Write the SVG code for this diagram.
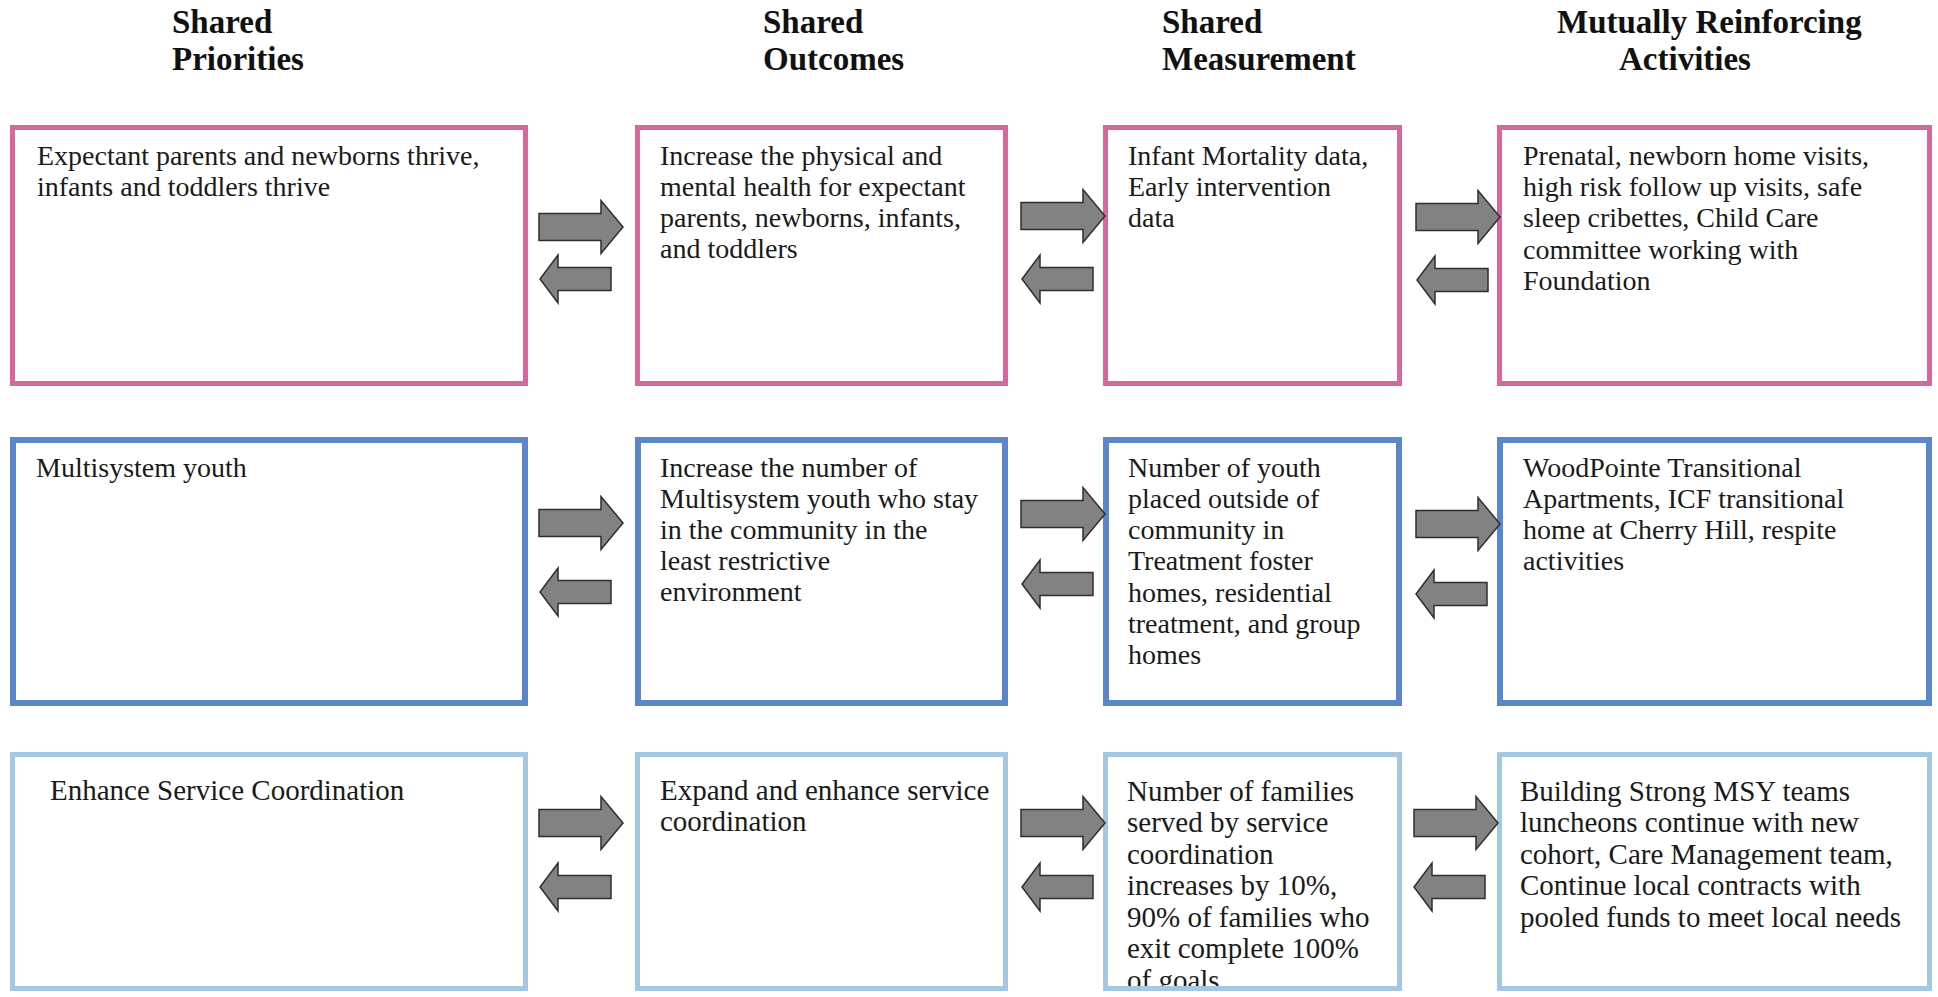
<svg xmlns="http://www.w3.org/2000/svg" width="1938" height="997" viewBox="0 0 1938 997">
<style>
.hd{font-family:"Liberation Serif","Times New Roman",serif;font-weight:bold;font-size:33px;fill:#111}
.tx{font-family:"Liberation Serif","Times New Roman",serif;font-size:28px;fill:#1a1a1a}
.tx3{font-family:"Liberation Serif","Times New Roman",serif;font-size:29px;fill:#1a1a1a}
.pink{fill:#fff;stroke:#d7689d;stroke-width:5}
.blue{fill:#fff;stroke:#5a87c9;stroke-width:6}
.lblue{fill:#fff;stroke:#a5c8e2;stroke-width:5}
.arr{fill:#828282;stroke:#2e2e2e;stroke-width:1.5;stroke-linejoin:miter}
</style>
<defs>
<path id="ra" d="M0,-13.5 L62,-13.5 L62,-26.5 L84,0 L62,26.5 L62,13.5 L0,13.5 Z"/>
<path id="la" d="M71,-11.5 L18,-11.5 L18,-24 L0,0 L18,24 L18,11.5 L71,11.5 Z"/>
<clipPath id="clipR3C3"><rect x="1106" y="755" width="293" height="231"/></clipPath>
</defs>
<rect width="1938" height="997" fill="#fff"/>

<g id="headers">
<text class="hd" x="172" y="33">Shared</text>
<text class="hd" x="172" y="70">Priorities</text>
<text class="hd" x="763" y="33">Shared</text>
<text class="hd" x="763" y="70">Outcomes</text>
<text class="hd" x="1162" y="33">Shared</text>
<text class="hd" x="1162" y="70">Measurement</text>
<text class="hd" x="1557" y="33">Mutually Reinforcing</text>
<text class="hd" x="1619" y="70">Activities</text>
</g>

<!-- Row 1 -->
<g id="r1c1">
<rect class="pink" x="12.5" y="127.5" width="513" height="256"/>
<text class="tx" x="37" y="165">Expectant parents and newborns thrive,</text>
<text class="tx" x="37" y="196">infants and toddlers thrive</text>
</g>
<g id="r1c2">
<rect class="pink" x="637.5" y="127.5" width="368" height="256"/>
<text class="tx" x="660" y="165">Increase the physical and</text>
<text class="tx" x="660" y="196">mental health for expectant</text>
<text class="tx" x="660" y="227">parents, newborns, infants,</text>
<text class="tx" x="660" y="258">and toddlers</text>
</g>
<g id="r1c3">
<rect class="pink" x="1105.5" y="127.5" width="294" height="256"/>
<text class="tx" x="1128" y="165">Infant Mortality data,</text>
<text class="tx" x="1128" y="196">Early intervention</text>
<text class="tx" x="1128" y="227">data</text>
</g>
<g id="r1c4">
<rect class="pink" x="1499.5" y="127.5" width="430" height="256"/>
<text class="tx" x="1523" y="165">Prenatal, newborn home visits,</text>
<text class="tx" x="1523" y="196">high risk follow up visits, safe</text>
<text class="tx" x="1523" y="227">sleep cribettes, Child Care</text>
<text class="tx" x="1523" y="259">committee working with</text>
<text class="tx" x="1523" y="290">Foundation</text>
</g>

<!-- Row 2 -->
<g id="r2c1">
<rect class="blue" x="13" y="440" width="512" height="263"/>
<text class="tx" x="36" y="477">Multisystem youth</text>
</g>
<g id="r2c2">
<rect class="blue" x="638" y="440" width="367" height="263"/>
<text class="tx" x="660" y="477">Increase the number of</text>
<text class="tx" x="660" y="508">Multisystem youth who stay</text>
<text class="tx" x="660" y="539">in the community in the</text>
<text class="tx" x="660" y="570">least restrictive</text>
<text class="tx" x="660" y="601">environment</text>
</g>
<g id="r2c3">
<rect class="blue" x="1106" y="440" width="293" height="263"/>
<text class="tx" x="1128" y="477">Number of youth</text>
<text class="tx" x="1128" y="508">placed outside of</text>
<text class="tx" x="1128" y="539">community in</text>
<text class="tx" x="1128" y="570">Treatment foster</text>
<text class="tx" x="1128" y="602">homes, residential</text>
<text class="tx" x="1128" y="633">treatment, and group</text>
<text class="tx" x="1128" y="664">homes</text>
</g>
<g id="r2c4">
<rect class="blue" x="1500" y="440" width="429" height="263"/>
<text class="tx" x="1523" y="477">WoodPointe Transitional</text>
<text class="tx" x="1523" y="508">Apartments, ICF transitional</text>
<text class="tx" x="1523" y="539">home at Cherry Hill, respite</text>
<text class="tx" x="1523" y="570">activities</text>
</g>

<!-- Row 3 -->
<g id="r3c1">
<rect class="lblue" x="12.5" y="754.5" width="513" height="234"/>
<text class="tx3" x="50" y="800">Enhance Service Coordination</text>
</g>
<g id="r3c2">
<rect class="lblue" x="637.5" y="754.5" width="368" height="234"/>
<text class="tx3" x="660" y="800">Expand and enhance service</text>
<text class="tx3" x="660" y="831">coordination</text>
</g>
<g id="r3c3">
<rect class="lblue" x="1105.5" y="754.5" width="294" height="234"/>
<g clip-path="url(#clipR3C3)">
<text class="tx3" x="1127" y="801">Number of families</text>
<text class="tx3" x="1127" y="832">served by service</text>
<text class="tx3" x="1127" y="864">coordination</text>
<text class="tx3" x="1127" y="895">increases by 10%,</text>
<text class="tx3" x="1127" y="927">90% of families who</text>
<text class="tx3" x="1127" y="958">exit complete 100%</text>
<text class="tx3" x="1127" y="990">of goals</text>
</g>
</g>
<g id="r3c4">
<rect class="lblue" x="1499.5" y="754.5" width="430" height="234"/>
<text class="tx3" x="1520" y="801">Building Strong MSY teams</text>
<text class="tx3" x="1520" y="832">luncheons continue with new</text>
<text class="tx3" x="1520" y="864">cohort, Care Management team,</text>
<text class="tx3" x="1520" y="895">Continue local contracts with</text>
<text class="tx3" x="1520" y="927">pooled funds to meet local needs</text>
</g>

<g id="connectors">
<use href="#ra" class="arr" x="539" y="227"/>
<use href="#la" class="arr" x="540" y="279"/>
<use href="#ra" class="arr" x="1021" y="216"/>
<use href="#la" class="arr" x="1022" y="279"/>
<use href="#ra" class="arr" x="1416" y="217"/>
<use href="#la" class="arr" x="1417" y="280"/>

<use href="#ra" class="arr" x="539" y="523"/>
<use href="#la" class="arr" x="540" y="592"/>
<use href="#ra" class="arr" x="1021" y="514"/>
<use href="#la" class="arr" x="1022" y="584"/>
<use href="#ra" class="arr" x="1416" y="524"/>
<use href="#la" class="arr" x="1416" y="594"/>

<use href="#ra" class="arr" x="539" y="823"/>
<use href="#la" class="arr" x="540" y="887"/>
<use href="#ra" class="arr" x="1021" y="823"/>
<use href="#la" class="arr" x="1022" y="887"/>
<use href="#ra" class="arr" x="1414" y="823"/>
<use href="#la" class="arr" x="1414" y="887"/>
</g>
</svg>
